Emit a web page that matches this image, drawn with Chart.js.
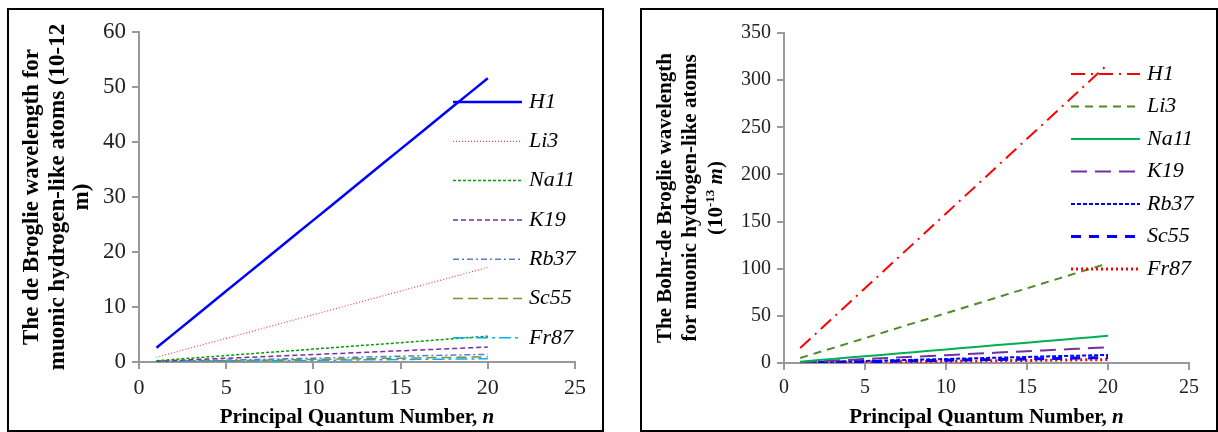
<!DOCTYPE html>
<html>
<head>
<meta charset="utf-8">
<script src="https://cdn.jsdelivr.net/npm/chart.js@4"></script>
<style>
  body { margin: 0; background: #fff; }
  .box { position: absolute; top: 8px; height: 424px; border: 2px solid #000; box-sizing: border-box; }
  #box1 { left: 7px; width: 597px; }
  #box2 { left: 640px; width: 578px; }
  canvas { display: block; }
</style>
</head>
<body>
<div class="box" id="box1"><canvas id="chart1" width="593" height="420"></canvas></div>
<div class="box" id="box2"><canvas id="chart2" width="574" height="420"></canvas></div>
<script>
// principal quantum number n
const nValues = [1, 2, 3, 4, 5, 6, 7, 8, 9, 10, 11, 12, 13, 14, 15, 16, 17, 18, 19, 20];
const atoms = ['H1', 'Li3', 'Na11', 'K19', 'Rb37', 'Sc55', 'Fr87'];
const xTicks = [0, 5, 10, 15, 20, 25];
const yTicksLeft = [0, 10, 20, 30, 40, 50, 60];
const yTicksRight = [0, 50, 100, 150, 200, 250, 300, 350];

// left chart: de Broglie wavelength (10-12 m)
const dbH1 = [2.58, 5.16, 7.74, 10.32, 12.9, 15.48, 18.06, 20.64, 23.22, 25.8, 28.38, 30.96, 33.54, 36.12, 38.7, 41.28, 43.86, 46.44, 49.02, 51.6];
const dbLi3 = [0.86, 1.72, 2.58, 3.44, 4.3, 5.16, 6.02, 6.88, 7.74, 8.6, 9.46, 10.32, 11.18, 12.04, 12.9, 13.76, 14.62, 15.48, 16.34, 17.2];
const dbNa11 = [0.23, 0.47, 0.70, 0.94, 1.17, 1.41, 1.64, 1.88, 2.11, 2.35, 2.58, 2.81, 3.05, 3.28, 3.52, 3.75, 3.99, 4.22, 4.46, 4.69];
const dbK19 = [0.14, 0.27, 0.41, 0.54, 0.68, 0.81, 0.95, 1.09, 1.22, 1.36, 1.49, 1.63, 1.76, 1.90, 2.04, 2.17, 2.31, 2.44, 2.58, 2.72];
const dbRb37 = [0.07, 0.14, 0.21, 0.28, 0.35, 0.42, 0.49, 0.56, 0.63, 0.70, 0.77, 0.84, 0.91, 0.98, 1.05, 1.12, 1.19, 1.26, 1.33, 1.39];
const dbSc55 = [0.05, 0.09, 0.14, 0.19, 0.23, 0.28, 0.33, 0.38, 0.42, 0.47, 0.52, 0.56, 0.61, 0.66, 0.70, 0.75, 0.80, 0.84, 0.89, 0.94];
const dbFr87 = [0.03, 0.06, 0.09, 0.12, 0.15, 0.18, 0.21, 0.24, 0.27, 0.30, 0.33, 0.36, 0.39, 0.42, 0.45, 0.48, 0.50, 0.53, 0.56, 0.59];

// right chart: Bohr-de Broglie wavelength (10-13 m)
const bdH1 = [15.9, 31.7, 47.6, 63.4, 79.3, 95.1, 111.0, 126.8, 142.7, 158.5, 174.4, 190.2, 206.1, 221.9, 237.8, 253.6, 269.5, 285.3, 301.2, 317.0];
const bdLi3 = [5.3, 10.6, 15.8, 21.1, 26.4, 31.7, 37.0, 42.3, 47.5, 52.8, 58.1, 63.4, 68.7, 74.0, 79.2, 84.5, 89.8, 95.1, 100.4, 105.7];
const bdNa11 = [1.4, 2.9, 4.3, 5.8, 7.2, 8.6, 10.1, 11.5, 13.0, 14.4, 15.9, 17.3, 18.7, 20.2, 21.6, 23.1, 24.5, 25.9, 27.4, 28.8];
const bdK19 = [0.8, 1.7, 2.5, 3.3, 4.2, 5.0, 5.8, 6.7, 7.5, 8.3, 9.2, 10.0, 10.8, 11.7, 12.5, 13.3, 14.2, 15.0, 15.8, 16.7];
const bdRb37 = [0.4, 0.9, 1.3, 1.7, 2.1, 2.6, 3.0, 3.4, 3.9, 4.3, 4.7, 5.1, 5.6, 6.0, 6.4, 6.9, 7.3, 7.7, 8.1, 8.6];
const bdSc55 = [0.3, 0.6, 0.9, 1.2, 1.4, 1.7, 2.0, 2.3, 2.6, 2.9, 3.2, 3.5, 3.7, 4.0, 4.3, 4.6, 4.9, 5.2, 5.5, 5.8];
const bdFr87 = [0.2, 0.4, 0.5, 0.7, 0.9, 1.1, 1.3, 1.5, 1.6, 1.8, 2.0, 2.2, 2.4, 2.6, 2.7, 2.9, 3.1, 3.3, 3.5, 3.6];

const SERIF = "'Liberation Serif', 'Times New Roman', serif";

// line styles: [color, width, dash]
const leftStyles = [
  ['#0000ff', 2.5, []],
  ['#ff4040', 1.2, [1, 2]],
  ['#00a000', 1.5, [3, 2]],
  ['#7030a0', 1.5, [5, 3]],
  ['#5b7fc7', 1.5, [6, 3, 2, 3]],
  ['#77933c', 1.5, [10, 5]],
  ['#00b0f0', 1.5, [12, 4, 3, 4]]
];
const rightStyles = [
  ['#ff0000', 2, [14, 6, 2, 6]],
  ['#4f8a2b', 2, [8, 6]],
  ['#00b050', 2, []],
  ['#7030a0', 2, [16, 8]],
  ['#0000ff', 2, [4, 2]],
  ['#0000ff', 3, [10, 8]],
  ['#ff0000', 3, [2, 3]]
];

function makeDatasets(series, styles) {
  return series.map((vals, i) => ({
    label: atoms[i],
    data: vals,
    borderColor: styles[i][0],
    backgroundColor: styles[i][0],
    borderWidth: styles[i][1],
    borderDash: styles[i][2],
    pointRadius: 0,
    fill: false,
    tension: 0
  }));
}

// draw a line of text runs (mixed bold / italic / superscript), centered at x
function drawRuns(ctx, runs, x, y) {
  let total = 0;
  runs.forEach(r => { ctx.font = r.font; total += ctx.measureText(r.text).width; });
  let cx = x - total / 2;
  runs.forEach(r => {
    ctx.font = r.font;
    ctx.fillText(r.text, cx, y + (r.dy || 0));
    cx += ctx.measureText(r.text).width;
  });
}

// axis titles and legend, drawn on top of the chart
const decorPlugin = {
  id: 'decor',
  afterDraw(chart, args, opts) {
    const ctx = chart.ctx;
    const area = chart.chartArea;
    ctx.save();
    ctx.fillStyle = '#000';
    ctx.textAlign = 'left';
    ctx.textBaseline = 'alphabetic';
    // x title
    drawRuns(ctx, opts.xTitle, (area.left + area.right) / 2, opts.xTitleY);
    // y title, rotated
    const cy = (area.top + area.bottom) / 2;
    opts.yTitle.forEach((line, i) => {
      ctx.save();
      ctx.translate(opts.yTitleX[i], cy);
      ctx.rotate(-Math.PI / 2);
      drawRuns(ctx, line, 0, 0);
      ctx.restore();
    });
    // legend
    const lg = opts.legend;
    chart.data.datasets.forEach((ds, i) => {
      const y = lg.top + i * lg.step;
      ctx.save();
      ctx.strokeStyle = ds.borderColor;
      ctx.lineWidth = ds.borderWidth;
      ctx.setLineDash(ds.borderDash || []);
      ctx.beginPath();
      ctx.moveTo(lg.x1, y);
      ctx.lineTo(lg.x2, y);
      ctx.stroke();
      ctx.restore();
      ctx.font = 'italic 22px ' + SERIF;
      ctx.textBaseline = 'middle';
      ctx.fillText(ds.label, lg.textX, y);
    });
    ctx.restore();
  }
};

function axisOptions(min, max, step, fontSize, fitFn) {
  return {
    type: 'linear',
    min: min,
    max: max,
    afterFit: fitFn,
    grid: { display: true, drawOnChartArea: false, drawTicks: true, tickLength: 7, color: '#999', lineWidth: 2 },
    border: { display: true, color: '#999', width: 2 },
    ticks: { stepSize: step, color: '#222', font: { family: SERIF, size: fontSize }, padding: 6, maxRotation: 0, autoSkip: false }
  };
}

const italicN = { text: 'n', font: 'italic bold 21px ' + SERIF };
const xTitleRuns = [{ text: 'Principal Quantum Number, ', font: 'bold 21px ' + SERIF }, italicN];
const BL = 'bold 23px ' + SERIF;
const BR = 'bold 21px ' + SERIF;

new Chart(document.getElementById('chart1'), {
  type: 'line',
  data: {
    labels: nValues,
    datasets: makeDatasets([dbH1, dbLi3, dbNa11, dbK19, dbRb37, dbSc55, dbFr87], leftStyles)
  },
  options: {
    responsive: false,
    animation: false,
    layout: { padding: { left: 0, right: 27, top: 22, bottom: 0 } },
    plugins: {
      legend: { display: false },
      tooltip: { enabled: false },
      decor: {
        xTitle: xTitleRuns,
        xTitleY: 413,
        yTitle: [
          [{ text: 'The de Broglie wavelength for', font: BL }],
          [{ text: 'muonic hydrogen-like atoms (10-12', font: BL }],
          [{ text: 'm)', font: BL }]
        ],
        yTitleX: [29, 55, 79],
        legend: { x1: 444, x2: 513, textX: 520, top: 92, step: 39.3 }
      }
    },
    scales: {
      x: axisOptions(xTicks[0], xTicks[xTicks.length - 1], 5, 22, s => { s.height = 68; }),
      y: axisOptions(yTicksLeft[0], yTicksLeft[yTicksLeft.length - 1], 10, 23, s => { s.width = 130; })
    }
  },
  plugins: [decorPlugin]
});

new Chart(document.getElementById('chart2'), {
  type: 'line',
  data: {
    labels: nValues,
    datasets: makeDatasets([bdH1, bdLi3, bdNa11, bdK19, bdRb37, bdSc55, bdFr87], rightStyles)
  },
  options: {
    responsive: false,
    animation: false,
    layout: { padding: { left: 0, right: 27, top: 23, bottom: 0 } },
    plugins: {
      legend: { display: false },
      tooltip: { enabled: false },
      decor: {
        xTitle: xTitleRuns,
        xTitleY: 413,
        yTitle: [
          [{ text: 'The Bohr-de Broglie wavelength', font: BR }],
          [{ text: 'for muonic hydrogen-like atoms', font: BR }],
          [{ text: '(10', font: BR }, { text: '-13', font: 'bold 13px ' + SERIF, dy: -8 }, { text: ' ', font: BR },
           { text: 'm', font: 'italic bold 21px ' + SERIF }, { text: ')', font: BR }]
        ],
        yTitleX: [29, 54, 80],
        legend: { x1: 429, x2: 498, textX: 505, top: 64, step: 32.5 }
      }
    },
    scales: {
      x: axisOptions(xTicks[0], xTicks[xTicks.length - 1], 5, 20, s => { s.height = 67; }),
      y: axisOptions(yTicksRight[0], yTicksRight[yTicksRight.length - 1], 50, 20, s => { s.width = 142; })
    }
  },
  plugins: [decorPlugin]
});
</script>
</body>
</html>
